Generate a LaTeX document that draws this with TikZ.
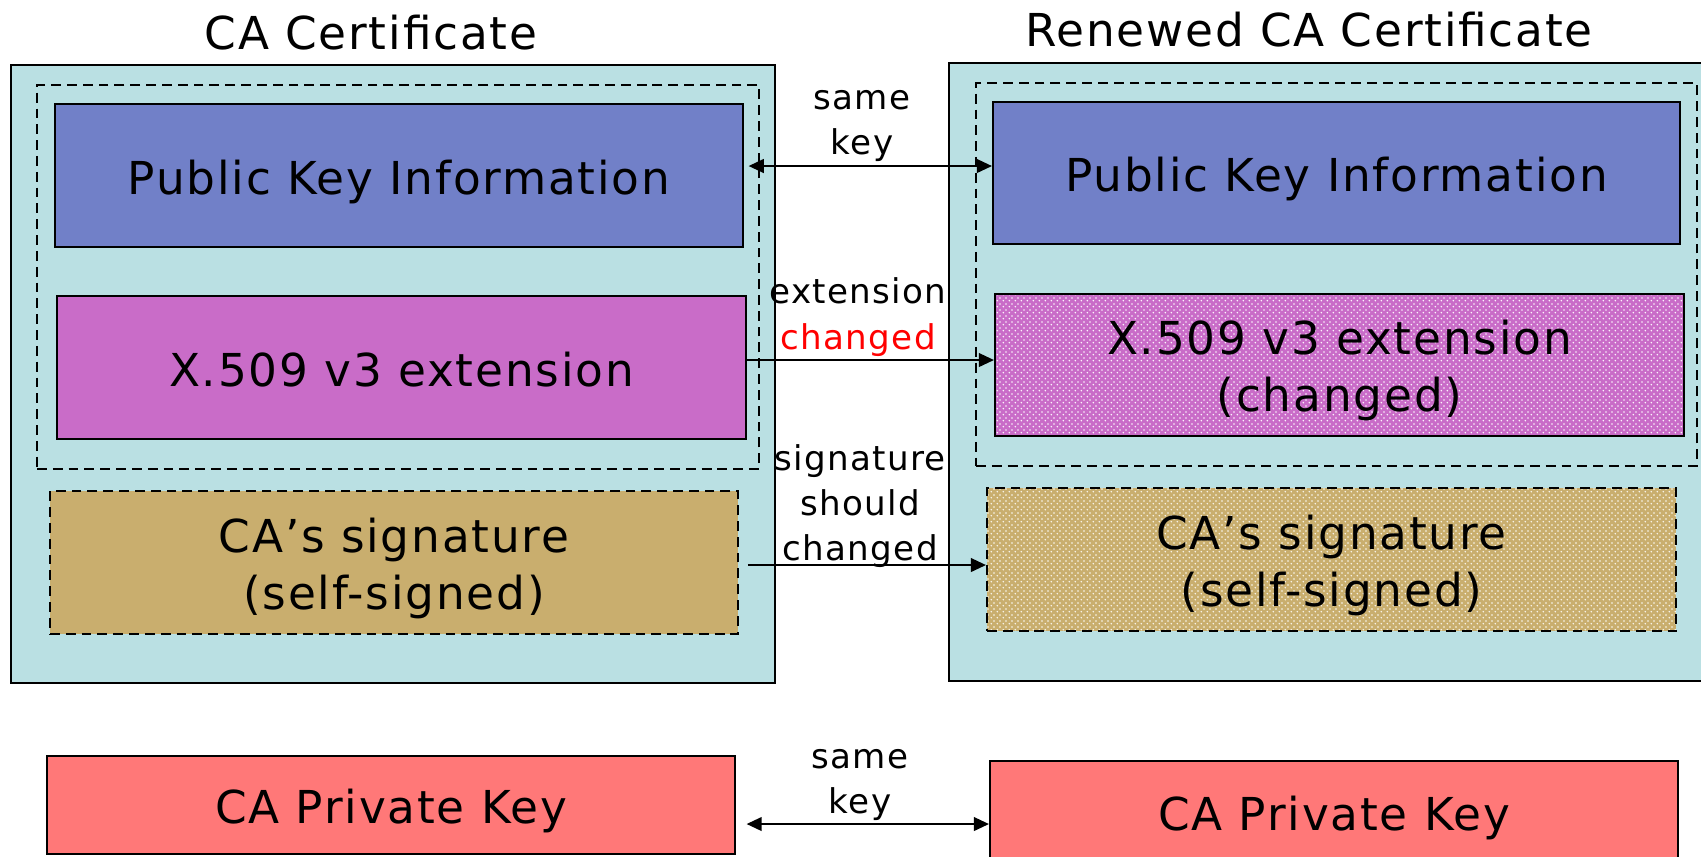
\documentclass[tikz,border=0pt]{standalone}
\usepackage{fontspec}
\setmainfont{DejaVu Sans}[LetterSpace=4.0]
\usetikzlibrary{arrows.meta,patterns.meta}
\definecolor{certbg}{RGB}{186,224,227}
\definecolor{pkicol}{RGB}{113,128,200}
\definecolor{magcol}{RGB}{201,108,200}
\definecolor{tancol}{RGB}{201,174,110}
\definecolor{redcol}{RGB}{255,120,120}
\tikzdeclarepattern{
  name=finedots, type=uncolored,
  bounding box={(0pt,0pt) and (1.6pt,1.6pt)},
  tile size={(1.6pt,1.6pt)},
  code={\fill (0.4pt,0.4pt) circle (0.26pt); \fill (1.2pt,1.2pt) circle (0.26pt);}
}
\newcommand\oneln[1]{\raisebox{-5.3pt}[0pt][0pt]{#1}}
\newcommand\twoln[2]{\raisebox{-13.3pt}[0pt][0pt]{\begin{tabular}[b]{@{}c@{}}#1\\#2\end{tabular}}}
\begin{document}
\begin{tikzpicture}[x=0.01cm,y=-0.01cm,
  big/.style={font=\fontsize{12.9}{16.2}\selectfont, text=black},
  lbl/.style={font=\fontsize{9.7}{12.9}\selectfont, align=center, inner sep=0pt},
  sz/.style 2 args={minimum width=#1*0.01cm, minimum height=#2*0.01cm},
  cert/.style={draw=black, line width=0.65pt, fill=certbg, inner sep=0pt},
  grp/.style={draw=black, line width=0.6pt, dash pattern=on 2.8pt off 1.7pt, inner sep=0pt},
  boxbase/.style={big, draw=black, line width=0.6pt, inner sep=0pt},
  pki/.style={boxbase, fill=pkicol},
  ext/.style={boxbase, fill=magcol},
  extp/.style={boxbase, preaction={fill=magcol}, pattern=finedots, pattern color=white!92!magcol},
  sig/.style={boxbase, fill=tancol, dash pattern=on 2.8pt off 1.7pt},
  sigp/.style={boxbase, preaction={fill=tancol}, pattern=finedots, pattern color=white!92!tancol, dash pattern=on 2.8pt off 1.7pt},
  priv/.style={boxbase, fill=redcol},
  arr/.style={line width=0.55pt, -{Triangle[length=4.3pt,width=3.9pt]}},
  darr/.style={line width=0.55pt, {Triangle[length=4.3pt,width=3.9pt]}-{Triangle[length=4.3pt,width=3.9pt]}}
]
\useasboundingbox (0,0) rectangle (1701,856);
\clip (0,0) rectangle (1701,856);

% titles
\node[big] (tL) at (371,33) {CA Certificate};
\node[big] (tR) at (1309,30) {Renewed CA Certificate};

% certificate backgrounds
\node[cert, sz={764}{618}] (cL) at (393,374) {};
\node[cert, sz={771}{618}] (cR) at (1334.5,372) {};

% dashed groups
\node[grp, sz={722}{384}] (gL) at (398,277) {};
\node[grp, sz={721}{383}] (gR) at (1336.5,274.5) {};

% left boxes
\node[pki, sz={688}{143}] (pkL) at (399,175.5) {\oneln{Public Key Information}};
\node[ext, sz={689}{143}] (xL) at (401.5,367.5) {\oneln{X.509 v3 extension}};
\node[sig, sz={688}{143}] (sL) at (394,562.5) {\twoln{CA’s signature}{(self-signed)}};
\node[priv, sz={688}{98}] (vL) at (391,805) {\oneln{CA Private Key}};

% right boxes
\node[pki, sz={687}{142}] (pkR) at (1336.5,173) {\oneln{Public Key Information}};
\node[extp, sz={689}{142}] (xR) at (1339.5,365) {\twoln{X.509 v3 extension}{(changed)}};
\node[sigp, sz={689}{143}] (sR) at (1331.5,559.5) {\twoln{CA’s signature}{(self-signed)}};
\node[priv, sz={688}{102}] (vR) at (1334,812) {\oneln{CA Private Key}};

% labels
\node[lbl] (l1) at (862,126) {same\\key};
\node[lbl] (l2) at (858,317) {extension\\\textcolor{red}{changed}};
\node[lbl] (l3) at (860,506) {signature\\should\\changed};
\node[lbl] (l4) at (860,785) {same\\key};

% arrow rows
\coordinate (y1) at (0,166);
\coordinate (y2) at (0,360);
\coordinate (y3) at (0,565);
\coordinate (y4) at (0,824);

\draw[darr, shorten <=1.3pt] (pkL.east |- y1) -- (pkR.west |- y1);
\draw[arr] (xL.east |- y2) -- (xR.west |- y2);
\draw[arr, shorten <=2.5pt] (sL.east |- y3) -- (sR.west |- y3);
\draw[darr, shorten <=3pt] (vL.east |- y4) -- (vR.west |- y4);
\end{tikzpicture}
\end{document}
